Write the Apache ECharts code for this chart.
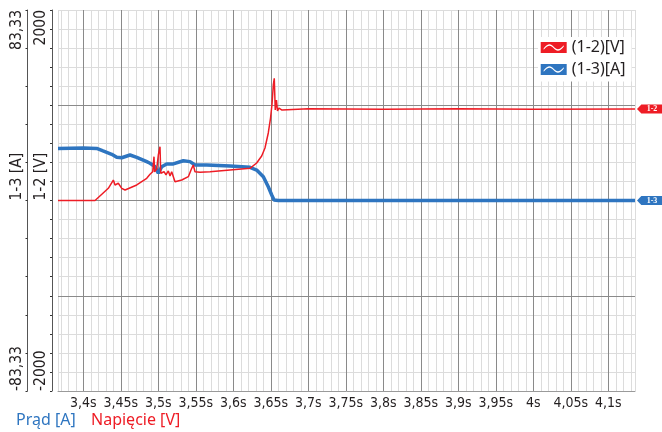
<!DOCTYPE html>
<html>
<head>
<meta charset="utf-8">
<script src="https://cdn.jsdelivr.net/npm/echarts@6/dist/echarts.min.js"></script>
<style>
  html, body { margin: 0; padding: 0; background: #fff; }
  #chart { width: 662px; height: 432px; }
</style>
</head>
<body>
<div id="chart"></div>
<script>
// Visible time window (s)
const timeRange = [3.3662, 4.1356];

// Labelled time ticks (s)
const timeTicks = [3.4, 3.45, 3.5, 3.55, 3.6, 3.65, 3.7, 3.75, 3.8, 3.85, 3.9, 3.95, 4.0, 4.05, 4.1];

// Channel 1-2: voltage [V]
const voltageTime = [
  3.3662, 3.4156, 3.4333, 3.4400, 3.4422, 3.4466, 3.4512, 3.4556, 3.4712, 3.4845,
  3.4889, 3.4925, 3.4942, 3.4950, 3.4978, 3.5000, 3.5022, 3.5032, 3.5049, 3.5076,
  3.5102, 3.5133, 3.5156, 3.5178, 3.5200, 3.5222, 3.5312, 3.5400, 3.5445, 3.5466,
  3.5489, 3.5556, 3.5689, 3.6222, 3.6311, 3.6378, 3.6422, 3.6466, 3.6496, 3.6516,
  3.6533, 3.6546, 3.6559, 3.6575, 3.6589, 3.6609, 3.6649, 3.7000, 3.8000, 3.9000,
  4.0000, 4.1356
];
const voltageValues = [
  0, 0, 128, 215, 163, 181, 128, 110, 163, 233,
  275, 302, 460, 300, 330, 478, 565, 286, 268, 302,
  268, 310, 257, 302, 313, 197, 215, 250, 338, 373,
  302, 296, 302, 338, 394, 467, 551, 709, 866, 1013,
  1213, 1283, 950, 1055, 940, 971, 950, 962, 958, 962,
  958, 960
];

// Channel 1-3: current [A]
const currentTime = [
  3.3662, 3.4000, 3.4178, 3.4262, 3.4378, 3.4445, 3.4512, 3.4622, 3.4712, 3.4845,
  3.4889, 3.4956, 3.5000, 3.5016, 3.5045, 3.5111, 3.5200, 3.5333, 3.5422, 3.5489,
  3.5645, 3.5956, 3.6222, 3.6311, 3.6400, 3.6466, 3.6512, 3.6542, 3.6600, 4.1356
];
const currentValues = [
  22.8, 23.0, 22.8, 21.7, 20.2, 18.9, 18.7, 19.9, 18.9, 17.0,
  16.3, 14.8, 11.9, 11.2, 14.8, 16.0, 16.0, 17.4, 17.0, 15.5,
  15.5, 15.1, 14.5, 13.3, 10.4, 6.0, 2.4, 0.2, 0, 0
];

// Axis ranges and end/centre labels
const voltageRange = [-2000, 2000];
const voltageLabelValues = [-2000, 0, 2000];
const voltageLabels = ['-2000', '1-2 [V]', '2000'];
const currentRange = [-83.33, 83.33];
const currentLabelValues = [-83.33, 0, 83.33];
const currentLabels = ['-83,33', '1-3 [A]', '83,33'];

const voltageName = '(1-2)[V]';
const currentName = '(1-3)[A]';
const RED = '#ee1c25';
const BLUE = '#2e75c0';
const INK = '#231f20';

// --- grid helpers ---
const minorTimeLines = [timeRange[0]];
for (let k = 337; k <= 413; k++) minorTimeLines.push(k / 100);
minorTimeLines.push(timeRange[1]);

const currentTickValues = [];
for (let k = -5; k <= 5; k++) currentTickValues.push(k * currentRange[1] / 5);

function pairs(xs, ys) { return xs.map((x, i) => [x, ys[i]]); }
function pickLabel(values, labels) {
  return function (v) {
    let best = 0;
    values.forEach((c, i) => { if (Math.abs(c - v) < Math.abs(values[best] - v)) best = i; });
    return labels[best];
  };
}

// Legend swatch: filled rectangle with a wave cut out of it
const waveIcon = 'path://M0,0L26,0L26,11L0,11Z' +
  'M23,3.2C19,8.2,16,8.2,13,4.7C10,1.2,7,1.2,3,6.2L3,7.8C7,2.8,10,2.8,13,6.3C16,9.8,19,9.8,23,4.8Z';

const tagPath = 'path://M0,5L5,0L30,0L30,10L5,10Z';
function channelTag(text, color, x, y) {
  return {
    symbol: tagPath,
    symbolSize: [26, 9],
    symbolOffset: [15, 0],
    silent: true,
    animation: false,
    itemStyle: { color: color },
    label: {
      show: true, position: 'inside', offset: [2, 0],
      formatter: text, color: '#fff', fontSize: 8, fontWeight: 'bold',
      fontFamily: '"Liberation Serif", serif'
    },
    data: [{ coord: [x, y] }]
  };
}

const narrow = '"DejaVu Sans Condensed", sans-serif';
const GRID = { left: 58, top: 10, width: 577, height: 381 };
const LIGHT = '#dcdcdc';
const DARK = '#8a8a8a';

const chart = echarts.init(document.getElementById('chart'), null, { renderer: 'canvas' });
chart.setOption({
  animation: false,
  backgroundColor: '#fff',
  title: [
    { text: 'Prąd [A]', left: 16, top: 412, padding: 0,
      textStyle: { color: BLUE, fontSize: 16, fontWeight: 'normal', fontFamily: '"Noto Sans", sans-serif' } },
    { text: 'Napięcie [V]', left: 91, top: 412, padding: 0,
      textStyle: { color: RED, fontSize: 16, fontWeight: 'normal', fontFamily: '"Noto Sans", sans-serif' } }
  ],
  legend: {
    data: [voltageName, currentName],
    orient: 'vertical',
    left: 538, top: 37,
    padding: [2.5, 6, 4, 2.7],
    backgroundColor: '#fff',
    icon: waveIcon,
    itemWidth: 26, itemHeight: 11, itemGap: 6,
    selectedMode: false,
    textStyle: { color: INK, fontSize: 16, fontFamily: '"Noto Sans", sans-serif' }
  },
  grid: Object.assign({ containLabel: false }, GRID),
  xAxis: [
    { // minor time grid
      type: 'value', min: timeRange[0], max: timeRange[1], z: 0,
      axisLine: { show: false },
      axisTick: { show: false, customValues: minorTimeLines },
      axisLabel: { show: false },
      splitLine: { show: true, lineStyle: { color: LIGHT, width: 1 } }
    },
    { // labelled time grid
      type: 'value', min: timeRange[0], max: timeRange[1], position: 'bottom', z: 1,
      axisLine: { show: true, onZero: false, lineStyle: { color: '#9a9a9a', width: 1 } },
      axisTick: { show: false, customValues: timeTicks },
      axisLabel: {
        show: true, customValues: timeTicks, margin: 5,
        color: INK, fontSize: 14, fontFamily: narrow,
        formatter: v => String(v).replace('.', ',') + 's'
      },
      splitLine: { show: true, lineStyle: { color: DARK, width: 1 } }
    }
  ],
  yAxis: [
    { // voltage scale with minor grid
      type: 'value', min: voltageRange[0], max: voltageRange[1], interval: 200, z: 0,
      position: 'left', offset: 6,
      axisLine: { show: true, lineStyle: { color: '#555', width: 1 } },
      axisTick: { show: true, length: 2, lineStyle: { color: '#333' } },
      axisLabel: {
        show: true, customValues: voltageLabelValues, rotate: 90, margin: 3,
        align: 'left', alignMaxLabel: 'right',
        color: INK, fontSize: 15.5, fontFamily: narrow,
        formatter: pickLabel(voltageLabelValues, voltageLabels)
      },
      splitLine: { show: true, lineStyle: { color: LIGHT, width: 1 } }
    },
    { // voltage major grid
      type: 'value', min: voltageRange[0], max: voltageRange[1], z: 1,
      axisLine: { show: false },
      axisTick: { show: false, customValues: [-1000, 0, 1000] },
      axisLabel: { show: false },
      splitLine: { show: true, lineStyle: { color: DARK, width: 1 } }
    },
    { // current scale
      type: 'value', min: currentRange[0], max: currentRange[1], z: 1,
      position: 'left', offset: 30.5,
      axisLine: { show: true, lineStyle: { color: '#555', width: 1 } },
      axisTick: { show: true, length: 2, customValues: currentTickValues, lineStyle: { color: '#333' } },
      axisLabel: {
        show: true, customValues: currentLabelValues, rotate: 90, margin: 3,
        align: 'left', alignMaxLabel: 'right',
        color: INK, fontSize: 15.5, fontFamily: narrow,
        formatter: pickLabel(currentLabelValues, currentLabels)
      },
      splitLine: { show: false }
    }
  ],
  series: [
    {
      name: currentName, type: 'line', xAxisIndex: 0, yAxisIndex: 2, z: 3,
      data: pairs(currentTime, currentValues),
      showSymbol: false, symbol: 'none',
      lineStyle: { color: BLUE, width: 3.5 }, itemStyle: { color: BLUE },
      markPoint: channelTag('1-3', BLUE, currentTime[currentTime.length - 1], currentValues[currentValues.length - 1])
    },
    {
      name: voltageName, type: 'line', xAxisIndex: 0, yAxisIndex: 0, z: 4,
      data: pairs(voltageTime, voltageValues),
      showSymbol: false, symbol: 'none',
      lineStyle: { color: RED, width: 1.5 }, itemStyle: { color: RED },
      markPoint: channelTag('1-2', RED, voltageTime[voltageTime.length - 1], voltageValues[voltageValues.length - 1])
    }
  ]
});
</script>
</body>
</html>
